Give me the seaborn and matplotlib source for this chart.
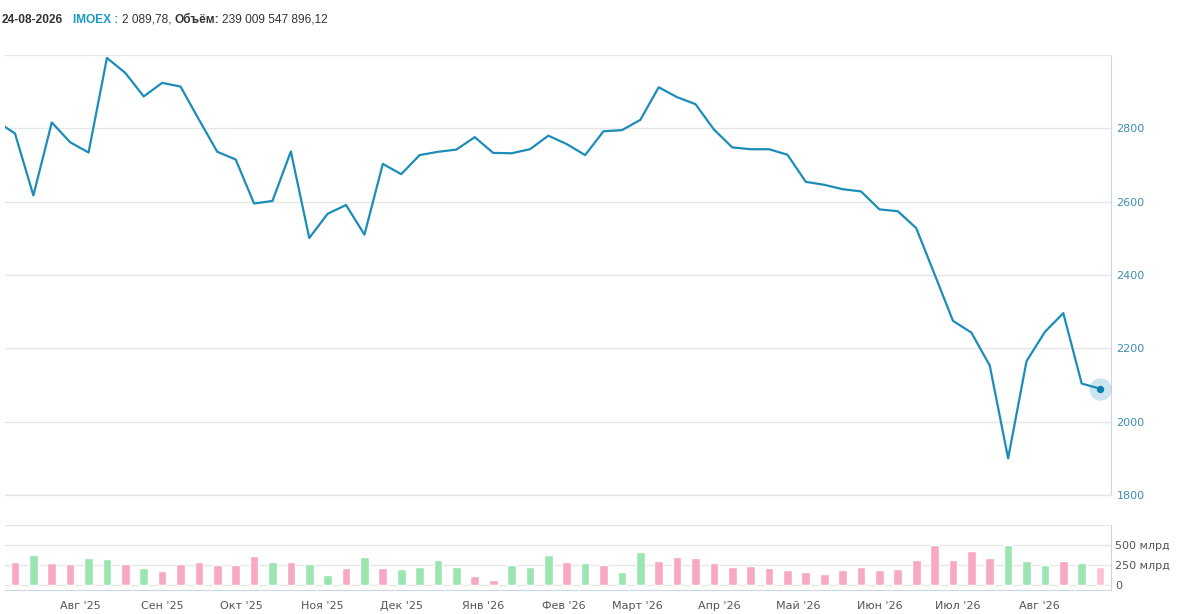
import numpy as np
import pandas as pd
import matplotlib
matplotlib.use("Agg")
import matplotlib.pyplot as plt
import matplotlib.dates as mdates
from matplotlib.ticker import FuncFormatter
import seaborn as sns

# weekly closes of IMOEX; the first one is the week cut off at the left edge
weeks = pd.date_range(end="2026-08-24", periods=61, freq="7D")
close = [2819, 2786, 2617, 2816, 2762, 2734, 2992, 2951, 2887, 2924,
         2914, 2824, 2736, 2715, 2595, 2602, 2737, 2501, 2567, 2591,
         2510, 2703, 2675, 2727, 2736, 2742, 2776, 2733, 2732, 2743,
         2780, 2757, 2727, 2792, 2795, 2823, 2912, 2885, 2866, 2797,
         2748, 2743, 2743, 2728, 2654, 2646, 2634, 2628, 2579, 2574,
         2528, 2402, 2275, 2243, 2153, 1900, 2165, 2245, 2296, 2104,
         2089.78]

# weekly turnover, bln rub (visible weeks only)
volume = [289, 368, 277, 264, 339, 326, 264, 215, 178, 264,
          289, 244, 252, 364, 289, 289, 264, 128, 215, 351,
          215, 202, 227, 314, 227, 116, 66, 244, 227, 376,
          289, 277, 252, 165, 413, 302, 351, 339, 277, 227,
          240, 215, 190, 165, 140, 190, 227, 190, 202, 314,
          492, 314, 426, 339, 492, 302, 252, 302, 277, 227]
# bar colour: u = up week, d = down week, c = current week
direction = ["d", "u", "d", "d", "u", "u", "d", "u", "d", "d",
             "d", "d", "d", "d", "u", "d", "u", "u", "d", "u",
             "d", "u", "u", "u", "u", "d", "d", "u", "u", "u",
             "d", "u", "d", "u", "u", "d", "d", "d", "d", "d",
             "d", "d", "d", "d", "d", "d", "d", "d", "d", "d",
             "d", "d", "d", "d", "u", "u", "u", "d", "u", "c"]

month_names = ["Янв", "Фев", "Март", "Апр", "Май", "Июн",
               "Июл", "Авг", "Сен", "Окт", "Ноя", "Дек"]

price_ticks = [1800, 2000, 2200, 2400, 2600, 2800, 3000]
vol_ticks = [0, 250, 500, 750]
vol_labels = ["0", "250 млрд", "500 млрд", ""]

line_color = "#1b8db8"
bar_colors = {"u": "#9be6b0", "d": "#f7a9c4", "c": "#f9c2d7"}
grid_color = "#e6e6e6"
axis_color = "#ccd6eb"

sns.set_style("white")
plt.rcParams["font.family"] = ["DejaVu Sans"]

W, H = 1178, 614
fig = plt.figure(figsize=(W / 100, H / 100), dpi=100)

left, right = 5 / W, 1111 / W
ax = fig.add_axes([left, 1 - 495 / H, right - left, (495 - 55) / H])
axv = fig.add_axes([left, 1 - 590 / H, right - left, (590 - 524.7) / H], sharex=ax)

# price line
sns.lineplot(x=weeks, y=close, ax=ax, color=line_color, linewidth=1.6)
ax.scatter([weeks[-1]], [close[-1]], s=260, color=line_color, alpha=0.22,
           linewidths=0, zorder=4)
ax.scatter([weeks[-1]], [close[-1]], s=28, color="#0a7db0", zorder=5,
           linewidths=0)

# volume bars
vis_weeks = weeks[1:]
colors = [bar_colors[d] for d in direction]
axv.bar(vis_weeks, volume, width=3.3, color=colors, zorder=3)

x0 = weeks[1] - pd.Timedelta(days=3.8)
x1 = weeks[-1] + pd.Timedelta(days=4.15)
ax.set_xlim(x0, x1)

ax.set_ylim(1800, 3000)
ax.set_yticks(price_ticks)
ax.set_yticklabels([str(t) if t < 3000 else "" for t in price_ticks])
ax.yaxis.tick_right()
ax.tick_params(axis="y", length=0, pad=4, labelsize=8, labelcolor="#3d8cb0")
ax.tick_params(axis="x", length=0, labelbottom=False)
ax.grid(axis="y", color=grid_color, linewidth=1)
ax.set_xlabel("")
ax.set_ylabel("")
for s in ["top", "left"]:
    ax.spines[s].set_visible(False)
ax.spines["bottom"].set_color(grid_color)
ax.spines["bottom"].set_linewidth(1)
ax.spines["right"].set_color(axis_color)

axv.set_ylim(-62, 750)
axv.set_yticks(vol_ticks)
axv.set_yticklabels(vol_labels)
axv.yaxis.tick_right()
axv.tick_params(axis="y", length=0, pad=3, labelsize=8, labelcolor="#555555")
axv.grid(axis="y", color=grid_color, linewidth=1, zorder=0)
axv.set_axisbelow(True)
for s in ["top", "left"]:
    axv.spines[s].set_visible(False)
axv.spines["right"].set_color(axis_color)
axv.spines["bottom"].set_color(axis_color)

axv.xaxis.set_major_locator(mdates.MonthLocator())
axv.xaxis.set_major_formatter(FuncFormatter(
    lambda v, p: f"{month_names[mdates.num2date(v).month - 1]} '{mdates.num2date(v).year % 100:02d}"))
axv.tick_params(axis="x", length=5, width=1, color=axis_color, pad=3,
                labelsize=8, labelcolor="#555555")

# header line
hy = 1 - 20 / H
hfont = ["Liberation Sans", "DejaVu Sans"]
fig.text(2 / W, hy, "24-08-2026", fontsize=8.6, fontweight="bold",
         color="#333333", va="center", family=hfont)
fig.text(73 / W, hy, "IMOEX :", fontsize=8.6, fontweight="bold",
         color="#1a9ac9", va="center", family=hfont)
fig.text(122 / W, hy, "2 089,78,", fontsize=8.6, color="#333333",
         va="center", family=hfont)
fig.text(175 / W, hy, "Объём:", fontsize=8.6, fontweight="bold",
         color="#333333", va="center", family=hfont)
fig.text(222 / W, hy, "239 009 547 896,12", fontsize=8.6, color="#333333",
         va="center", family=hfont)

fig.savefig("out.png", dpi=100)
